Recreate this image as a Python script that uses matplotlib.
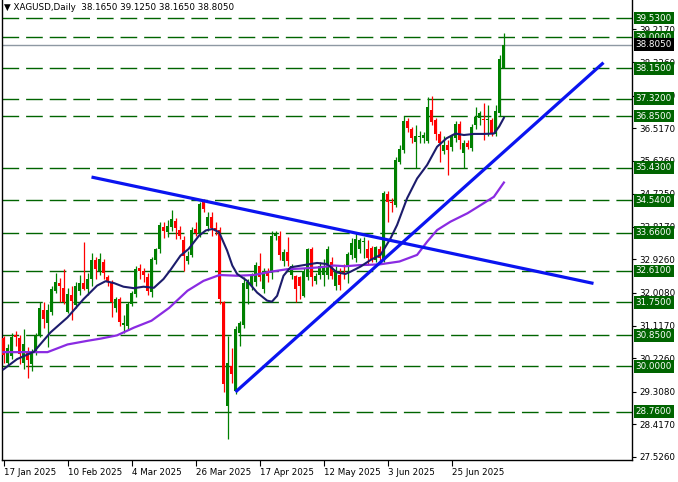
import numpy as np
import matplotlib
matplotlib.use("Agg")
import matplotlib.pyplot as plt
import matplotlib.transforms as mtransforms

plt.rcParams['font.family'] = ['DejaVu Sans']

# daily candles, bar 0 = 17 Jan 2025
opens = [30.77, 30.08, 30.29, 30.85, 30.77, 30.10, 30.38, 30.06, 30.38, 30.83,
         31.54, 31.18, 31.48, 32.07, 32.28, 32.14, 31.49, 31.95, 31.68, 32.05,
         32.27, 32.13, 32.39, 32.92, 32.60, 32.85, 32.44, 32.30, 31.60, 31.84,
         31.14, 31.10, 31.70, 31.98, 32.70, 32.60, 32.44, 32.04, 32.90, 33.20,
         33.80, 33.67, 33.80, 33.99, 33.72, 33.47, 32.89, 33.05, 33.76, 33.63,
         34.54, 33.85, 34.10, 33.78, 33.72, 31.75, 28.93, 30.01, 29.33, 30.91,
         31.13, 32.12, 32.21, 32.30, 32.76, 32.12, 32.62, 32.55, 33.58, 33.58,
         32.87, 33.14, 32.50, 32.46, 32.44, 31.92, 32.44, 33.21, 32.34, 32.50,
         32.50, 32.50, 32.85, 32.21, 32.50, 32.59, 32.77, 33.05, 32.96, 33.21,
         33.40, 33.21, 33.23, 32.91, 33.20, 32.91, 34.72, 34.51, 34.42, 35.60,
         35.92, 36.71, 36.49, 36.15, 36.28, 36.24, 36.17, 37.01, 36.74, 36.37,
         35.90, 36.06, 36.00, 36.24, 36.62, 35.83, 36.10, 35.97, 36.60, 36.79,
         36.78, 36.75, 36.74, 36.37, 36.92, 38.165]
highs = [30.84, 30.60, 30.90, 30.98, 30.85, 31.02, 30.54, 30.47, 30.90, 31.75,
         31.75, 31.70, 32.20, 32.55, 32.43, 32.66, 32.15, 32.20, 32.30, 32.50,
         33.41, 32.55, 33.10, 33.00, 33.10, 32.95, 32.50, 32.35, 31.90, 31.90,
         31.40, 31.75, 32.05, 32.75, 32.80, 32.70, 32.55, 33.00, 33.25, 33.95,
         33.95, 34.00, 34.27, 34.05, 33.85, 33.58, 33.17, 33.80, 33.95, 34.50,
         34.59, 34.22, 34.22, 33.95, 33.80, 31.80, 30.83, 30.51, 31.10, 31.25,
         32.45, 32.40, 32.55, 32.85, 33.09, 32.70, 32.70, 33.70, 33.70, 33.70,
         33.20, 33.53, 32.80, 32.50, 32.46, 32.70, 33.25, 33.26, 32.55, 32.85,
         32.94, 33.30, 33.00, 32.75, 32.70, 32.80, 33.12, 33.50, 33.64, 33.50,
         33.55, 33.46, 33.30, 33.30, 33.30, 34.80, 34.80, 34.60, 35.72, 36.05,
         36.85, 36.80, 36.55, 36.60, 36.45, 36.40, 37.36, 37.40, 36.80, 36.45,
         36.30, 36.20, 36.35, 36.70, 36.70, 36.20, 36.20, 36.62, 37.10, 37.00,
         37.20, 37.15, 36.80, 37.15, 38.52, 39.125]
lows = [30.10, 30.02, 30.20, 30.55, 30.06, 29.92, 29.69, 29.87, 30.30, 30.80,
        31.06, 30.54, 31.40, 32.00, 31.75, 31.70, 31.45, 31.28, 31.60, 31.95,
        32.10, 31.95, 32.20, 32.40, 32.50, 32.40, 32.20, 31.36, 31.50, 31.10,
        30.90, 31.00, 31.65, 31.90, 32.40, 32.30, 31.95, 31.90, 32.80, 33.10,
        33.50, 33.55, 33.70, 33.49, 33.49, 32.62, 32.80, 33.00, 33.58, 33.55,
        34.22, 33.70, 33.58, 33.60, 31.70, 29.30, 28.00, 29.55, 29.25, 30.56,
        31.05, 31.70, 32.10, 32.20, 32.34, 32.00, 32.30, 32.40, 33.45, 32.90,
        32.76, 32.76, 32.40, 31.75, 31.84, 31.90, 32.35, 32.21, 32.25, 32.40,
        32.21, 32.40, 32.40, 32.10, 32.10, 32.40, 32.27, 32.95, 32.85, 33.10,
        32.96, 32.77, 32.85, 32.85, 32.85, 32.85, 33.96, 34.23, 34.35, 35.55,
        35.85, 36.40, 36.10, 35.42, 36.10, 36.10, 36.10, 36.60, 36.20, 35.60,
        35.80, 35.24, 35.90, 36.15, 35.95, 35.42, 35.95, 35.90, 36.50, 36.60,
        36.20, 36.30, 36.30, 36.30, 36.85, 38.165]
closes = [30.31, 30.51, 30.81, 30.80, 30.33, 30.61, 30.18, 30.40, 30.83, 31.61,
          31.29, 31.55, 32.11, 32.30, 32.20, 31.77, 31.99, 31.78, 32.20, 32.27,
          32.13, 32.39, 32.90, 32.66, 32.94, 32.55, 32.30, 31.77, 31.84, 31.22,
          31.20, 31.70, 32.00, 32.67, 32.60, 32.50, 32.05, 32.94, 33.20, 33.87,
          33.70, 33.85, 34.02, 33.78, 33.56, 33.03, 33.03, 33.72, 33.65, 34.45,
          34.31, 34.10, 33.78, 33.72, 31.84, 29.51, 30.10, 29.78, 31.02, 31.20,
          32.27, 32.30, 32.50, 32.78, 32.44, 32.62, 32.46, 33.58, 33.62, 33.06,
          33.14, 32.89, 32.76, 32.12, 32.21, 32.62, 33.21, 32.44, 32.46, 32.76,
          32.68, 33.21, 32.46, 32.62, 32.24, 32.52, 33.07, 33.37, 33.48, 33.46,
          33.43, 32.96, 32.91, 33.28, 32.96, 34.75, 34.51, 34.48, 35.64, 35.96,
          36.72, 36.51, 36.24, 36.30, 36.31, 36.33, 37.10, 36.69, 36.37, 36.10,
          36.07, 35.92, 36.31, 36.63, 36.19, 36.10, 36.01, 36.56, 36.83, 36.94,
          36.75, 36.78, 36.35, 36.99, 38.40, 38.805]

# moving averages (bar, price)
fast_ma_bar = [0, 3.4, 7.6, 11.75, 16, 20, 23.4, 25.5, 27.6, 30, 32.6, 35, 37.6, 40,
               41.75, 44.25, 46.25, 48.9, 50.6, 52.25, 53.9, 55.9, 57.2, 58.4, 60.9,
               63.4, 65.9, 67.1, 68.4, 70, 71.75, 75, 78.4, 80.9, 83.4, 85.5, 86.75,
               89.25, 91.75, 94.25, 96.75, 98.4, 100.9, 103.4, 105.9, 108.4, 110.75,
               113, 115.1, 117.6, 120.1, 122.6, 123.9, 125.1]
fast_ma_val = [29.92, 30.2, 30.4, 30.93, 31.34, 31.84, 32.21, 32.33, 32.28, 32.18, 32.14,
               32.18, 32.15, 32.39, 32.64, 33.03, 33.21, 33.58, 33.72, 33.76, 33.67,
               33.17, 32.76, 32.53, 32.34, 32.02, 31.8, 31.77, 31.93, 32.48, 32.71,
               32.77, 32.83, 32.8, 32.57, 32.53, 32.59, 32.73, 32.91, 33.05, 33.5,
               33.87, 34.6, 35.14, 35.51, 36.01, 36.24, 36.37, 36.33, 36.36, 36.36,
               36.37, 36.56, 36.8]
slow_ma_bar = [0, 11, 16, 21, 24.3, 28.4, 32.6, 37, 41.4, 46, 50, 54, 58.4, 62.6,
               66.75, 71, 75, 79, 82.6, 85.5, 89, 94, 99, 103.4, 105.9, 108.4,
               111.75, 116, 119.25, 122.6, 125.1]
slow_ma_val = [30.39, 30.39, 30.6, 30.7, 30.76, 30.85, 31.06, 31.25, 31.6, 32.07,
               32.34, 32.5, 32.48, 32.5, 32.59, 32.66, 32.68, 32.71, 32.76, 32.74,
               32.77, 32.79, 32.87, 33.05, 33.41, 33.73, 33.96, 34.19, 34.41, 34.64,
               35.03]

# drawn trend lines (bar, price)
down_line = [(22, 35.18), (147.5, 32.27)]
up_line = [(58, 29.3), (150, 38.31)]

levels = [39.53, 39.00, 38.15, 37.32, 36.85, 35.43, 34.54, 33.66, 32.61, 31.75,
          30.85, 30.00, 28.76]
last_price = 38.805
price_ticks = [27.526, 28.417, 29.308, 30.226, 31.117, 32.008, 32.926, 33.817,
               34.725, 35.626, 36.517, 37.408, 38.326, 39.217]
date_ticks = [0, 16, 32, 48, 64, 80, 96, 112]
date_labels = ["17 Jan 2025", "10 Feb 2025", "4 Mar 2025", "26 Mar 2025",
               "17 Apr 2025", "12 May 2025", "3 Jun 2025", "25 Jun 2025"]

GREEN = "#006400"
UP = "#008000"
DOWN = "#ff0000"

fig = plt.figure(figsize=(6.78, 4.82), dpi=100)
ax = fig.add_axes([2 / 678, 22 / 482, 630 / 678, 460 / 482])

o = np.array(opens)
c = np.array(closes)
h = np.array(highs)
l = np.array(lows)
idx = np.arange(len(o))
cols = [UP if cc >= oo else DOWN for oo, cc in zip(o, c)]

# level lines
for lv in levels:
    ax.axhline(lv, color=GREEN, lw=1.0, ls=(0, (12, 5)), zorder=1)
ax.axhline(last_price, color="#8e98a3", lw=1.0, zorder=1)

# candles
ax.vlines(idx, l, h, colors=cols, lw=0.9, zorder=3)
body = np.maximum(np.abs(c - o), 0.03)
ax.bar(idx, body, bottom=np.minimum(o, c), width=0.72, color=cols, lw=0, zorder=3)

# moving averages
ax.plot(slow_ma_bar, slow_ma_val, color="#8a2be2", lw=1.6, zorder=4)
ax.plot(fast_ma_bar, fast_ma_val, color="#1c1c6c", lw=1.5, zorder=4)

# trend lines
for ln in (down_line, up_line):
    ax.plot([p[0] for p in ln], [p[1] for p in ln], color="#0a14f0", lw=2.3,
            solid_capstyle="butt", zorder=5)

ax.set_xlim(-0.375, 157.125)
ax.set_ylim(27.439, 40.024)

for s in ("top",):
    ax.spines[s].set_visible(False)
for s in ("left", "bottom", "right"):
    ax.spines[s].set_color("black")
    ax.spines[s].set_linewidth(1.0)

ax.yaxis.tick_right()
ax.set_yticks(price_ticks)
ax.set_yticklabels(["%.4f" % v for v in price_ticks])
ax.tick_params(axis="y", direction="out", length=3, width=0.8, pad=2,
               labelsize=6.3, colors="black")
ax.set_xticks(date_ticks)
ax.set_xticklabels(date_labels, ha="left")
ax.tick_params(axis="x", direction="out", length=4, width=0.8, pad=1.5,
               labelsize=6.3, colors="black")
for t in ax.get_xticklabels():
    t.set_x(0)
offset = mtransforms.ScaledTranslation(1 / 100, 0, fig.dpi_scale_trans)
for t in ax.get_xticklabels():
    t.set_transform(t.get_transform() + offset)

# level labels
tr = mtransforms.blended_transform_factory(ax.transAxes, ax.transData)
for lv in levels:
    ax.text(1.006, lv, "%.4f" % lv, transform=tr, ha="left", va="center",
            fontsize=6.3, color="white", clip_on=False, zorder=6,
            bbox=dict(boxstyle="square,pad=0.22", fc=GREEN, ec="none"))
ax.text(1.006, last_price, "%.4f" % last_price, transform=tr, ha="left",
        va="center", fontsize=6.3, color="white", clip_on=False, zorder=7,
        bbox=dict(boxstyle="square,pad=0.22", fc="black", ec="none"))

fig.text(4 / 678, 1 - 8 / 482,
         "\u25bc XAGUSD,Daily  %.4f %.4f %.4f %.4f" % (opens[-1], highs[-1], lows[-1], closes[-1]),
         ha="left", va="center", fontsize=6.3, color="black")

fig.savefig("out.png", dpi=100, facecolor="white")
